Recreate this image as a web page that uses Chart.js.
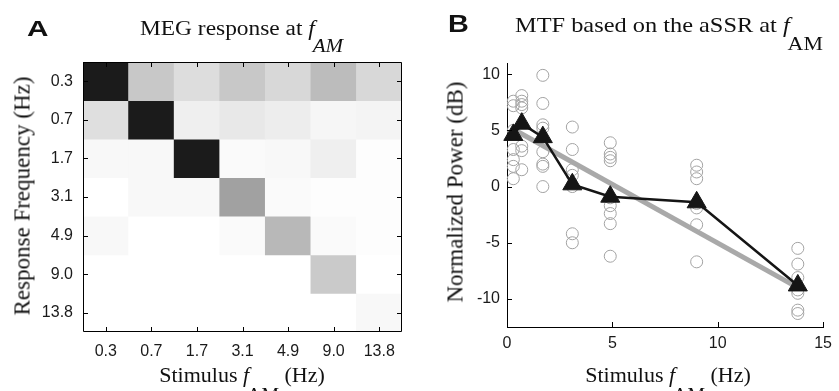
<!DOCTYPE html>
<html lang="en">
<head>
<meta charset="UTF-8">
<title>MEG response and MTF</title>
<script src="https://cdn.jsdelivr.net/npm/chart.js"></script>
<style>
    * { margin: 0; padding: 0; box-sizing: border-box; }

    body {
        width: 839px;
        height: 391px;
        background: #fff;
        position: relative;
        overflow: hidden;
        font-family: 'Liberation Serif', 'Times New Roman', serif;
        color: #111;
    }

    .panel { position: absolute; top: 0; height: 391px; }
    #panelA { left: 0; width: 420px; }
    #panelB { left: 420px; width: 419px; }

    .txt { position: absolute; white-space: nowrap; line-height: 1; transform-origin: left top; }
    .letter { font-family: 'Liberation Sans', Arial, sans-serif; font-weight: bold; }
    .axis-title { font-size: 22px; transform: translateX(-50%); }
    .rot { font-size: 23px; transform-origin: center center; transform: translate(-50%, -50%) rotate(-90deg); }
    .sub { position: relative; top: 0.95em; font-size: 0.9em; margin-left: -0.1em; }
</style>
</head>
<body>
    <div class="panel" id="panelA"><canvas id="heatChart"></canvas></div>
    <div class="panel" id="panelB"><canvas id="mtfChart"></canvas></div>

    <!-- panel labels and titles -->
    <div class="txt letter" style="left:27px; top:18px; font-size:22px; transform:scaleX(1.35);">A</div>
    <div class="txt" style="left:140px; top:18px; font-size:20px; transform:scaleX(1.17);">MEG response at <i>f</i><span class="sub"><i>AM</i></span></div>
    <div class="txt axis-title rot" style="left:22px; top:196px;">Response Frequency (Hz)</div>
    <div class="txt axis-title" style="left:242px; top:364px;">Stimulus <i>f</i><span class="sub">AM</span> (Hz)</div>

    <div class="txt letter" style="left:448px; top:12px; font-size:24px; transform:scaleX(1.2);">B</div>
    <div class="txt" style="left:515px; top:15px; font-size:21px; transform:scaleX(1.16);">MTF based on the aSSR at <i>f</i><span class="sub">AM</span></div>
    <div class="txt axis-title rot" style="left:455px; top:192px;">Normalized Power (dB)</div>
    <div class="txt axis-title" style="left:668px; top:364px;">Stimulus <i>f</i><span class="sub">AM</span> (Hz)</div>

<script>
    // ---- data, panel A ----
    const stimLabels = ['0.3', '0.7', '1.7', '3.1', '4.9', '9.0', '13.8'];
    const respLabels = ['0.3', '0.7', '1.7', '3.1', '4.9', '9.0', '13.8'];
    // normalized MEG response, rows = response frequency, cols = stimulus fAM
    const megPower = [
        [0.99, 0.24, 0.15, 0.24, 0.17, 0.29, 0.17],
        [0.14, 0.99, 0.07, 0.10, 0.08, 0.04, 0.05],
        [0.03, 0.03, 0.99, 0.02, 0.03, 0.07, 0.01],
        [0.00, 0.03, 0.03, 0.41, 0.02, 0.01, 0.01],
        [0.03, 0.00, 0.00, 0.02, 0.31, 0.02, 0.01],
        [0.00, 0.00, 0.00, 0.00, 0.00, 0.23, 0.00],
        [0.00, 0.00, 0.00, 0.00, 0.00, 0.00, 0.03]
    ];

    // ---- data, panel B ----
    const stimFreqs = [0.3, 0.7, 1.7, 3.1, 4.9, 9.0, 13.8];
    const subjPower = [
        [7.6, 7.2, 5.0, 3.3, 2.4, 1.8, 0.7],
        [8.1, 7.6, 7.3, 7.0, 3.6, 3.2, 1.5],
        [9.9, 7.4, 5.5, 5.2, 3.1, 2.0, 1.8, 0.0],
        [5.3, 3.3, 1.5, 1.0, 0.0, -4.2, -5.0],
        [3.9, 2.9, 2.6, 2.3, -1.0, -1.7, -2.4, -3.3, -6.2],
        [1.9, 1.3, 0.7, -1.5, -1.9, -3.4, -6.7],
        [-5.5, -6.9, -8.1, -9.2, -9.5, -11.0, -11.3]
    ];
    const meanPower = [4.6, 5.6, 4.4, 0.2, -0.9, -1.4, -8.8];
    const fitX = [0.3, 13.8];
    const fitY = [5.1, -9.0];
    const xTicksB = [0, 5, 10, 15];
    const yTicksB = [-10, -5, 0, 5, 10];

    const tickFont = { family: "'Liberation Sans', Arial, sans-serif", size: 16 };

    function grayOf(v) {
        const g = Math.round(255 - v * 230);
        return `rgb(${g},${g},${g})`;
    }

    // MATLAB style ticks pointing into the plot, optional full box
    const inwardTicks = {
        id: 'inwardTicks',
        afterDraw(chart, args, opts) {
            const { ctx, chartArea: a, scales: { x, y } } = chart;
            const len = 5;
            ctx.save();
            ctx.strokeStyle = '#000';
            ctx.lineWidth = 1;
            ctx.beginPath();
            x.ticks.forEach((t, i) => {
                const px = Math.round(x.getPixelForTick(i)) + 0.5;
                ctx.moveTo(px, a.bottom); ctx.lineTo(px, a.bottom - len);
                if (opts.box) { ctx.moveTo(px, a.top); ctx.lineTo(px, a.top + len); }
            });
            y.ticks.forEach((t, i) => {
                const py = Math.round(y.getPixelForTick(i)) + 0.5;
                ctx.moveTo(a.left, py); ctx.lineTo(a.left + len, py);
                if (opts.box) { ctx.moveTo(a.right, py); ctx.lineTo(a.right - len, py); }
            });
            if (opts.box) {
                ctx.rect(Math.round(a.left) + 0.5, Math.round(a.top) + 0.5,
                         Math.round(a.right - a.left) - 1, Math.round(a.bottom - a.top) - 1);
            }
            ctx.stroke();
            ctx.restore();
        }
    };

    // Panel A: heatmap built from floating bars, one dataset per response row
    new Chart(document.getElementById('heatChart'), {
        type: 'bar',
        data: {
            labels: stimLabels,
            datasets: megPower.map((row, i) => ({
                data: row.map(() => [i, i + 1]),
                backgroundColor: row.map(v => grayOf(v)),
                borderWidth: 0,
                grouped: false,
                barPercentage: 1,
                categoryPercentage: 1
            }))
        },
        options: {
            responsive: true,
            maintainAspectRatio: false,
            animation: false,
            events: [],
            layout: { padding: { top: 62, right: 18, left: 0, bottom: 0 } },
            plugins: { legend: { display: false }, tooltip: { enabled: false }, inwardTicks: { box: true } },
            scales: {
                x: {
                    grid: { display: false, drawTicks: false },
                    border: { display: false },
                    ticks: { font: tickFont, color: '#1a1a1a', padding: 10, maxRotation: 0 },
                    afterFit: s => { s.height = 59; }
                },
                y: {
                    type: 'linear',
                    min: 0,
                    max: 7,
                    reverse: true,
                    grid: { display: false, drawTicks: false },
                    border: { display: false },
                    afterBuildTicks: s => { s.ticks = respLabels.map((_, i) => ({ value: i + 0.5 })); },
                    ticks: {
                        font: tickFont, color: '#1a1a1a', padding: 10, autoSkip: false,
                        callback: v => respLabels[Math.floor(v)]
                    },
                    afterFit: s => { s.width = 83; }
                }
            }
        },
        plugins: [inwardTicks]
    });

    // Panel B: individual subjects, linear fit and mean MTF
    const subjPoints = [];
    stimFreqs.forEach((f, i) => subjPower[i].forEach(p => subjPoints.push({ x: f, y: p })));

    new Chart(document.getElementById('mtfChart'), {
        type: 'scatter',
        data: {
            datasets: [
                {
                    type: 'line',
                    data: stimFreqs.map((f, i) => ({ x: f, y: meanPower[i] })),
                    borderColor: '#151515',
                    borderWidth: 2.5,
                    pointStyle: 'triangle',
                    pointRadius: 11,
                    pointBackgroundColor: '#151515',
                    pointBorderColor: '#151515',
                    pointBorderWidth: 1,
                    clip: false
                },
                {
                    type: 'line',
                    data: fitX.map((f, i) => ({ x: f, y: fitY[i] })),
                    borderColor: '#a9a9a9',
                    borderWidth: 5,
                    pointRadius: 0,
                    clip: false
                },
                {
                    data: subjPoints,
                    pointStyle: 'circle',
                    pointRadius: 6,
                    backgroundColor: 'rgba(0,0,0,0)',
                    borderColor: '#a3a3a3',
                    borderWidth: 1,
                    clip: false
                }
            ]
        },
        options: {
            responsive: true,
            maintainAspectRatio: false,
            animation: false,
            events: [],
            layout: { padding: { top: 63, right: 10, left: 0, bottom: 0 } },
            plugins: { legend: { display: false }, tooltip: { enabled: false }, inwardTicks: { box: false } },
            scales: {
                x: {
                    type: 'linear',
                    min: 0,
                    max: 15,
                    grid: { display: false, drawTicks: false },
                    border: { display: true, color: '#000', width: 1 },
                    afterBuildTicks: s => { s.ticks = xTicksB.map(v => ({ value: v })); },
                    ticks: { font: tickFont, color: '#1a1a1a', padding: 7, maxRotation: 0 },
                    afterFit: s => { s.height = 64; }
                },
                y: {
                    type: 'linear',
                    min: -12.5,
                    max: 11,
                    grid: { display: false, drawTicks: false },
                    border: { display: true, color: '#000', width: 1 },
                    afterBuildTicks: s => { s.ticks = yTicksB.map(v => ({ value: v })); },
                    ticks: { font: tickFont, color: '#1a1a1a', padding: 7 },
                    afterFit: s => { s.width = 87; }
                }
            }
        },
        plugins: [inwardTicks]
    });
</script>
</body>
</html>
